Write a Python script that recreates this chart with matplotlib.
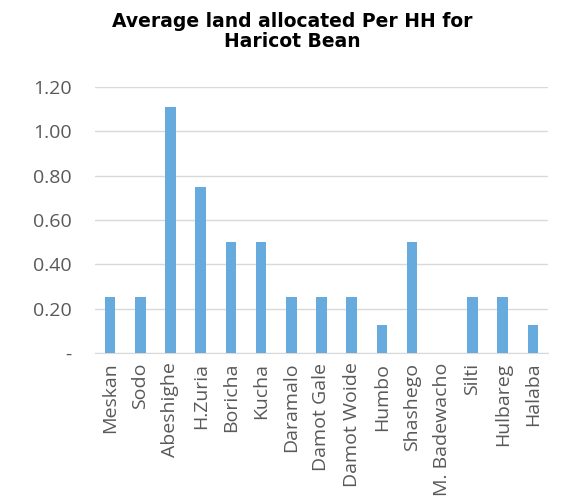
import matplotlib.pyplot as plt
import numpy as np

districts = ["Meskan", "Sodo", "Abeshighe", "H.Zuria", "Boricha", "Kucha",
             "Daramalo", "Damot Gale", "Damot Woide", "Humbo", "Shashego",
             "M. Badewacho", "Silti", "Hulbareg", "Halaba"]
land_per_hh = [0.25, 0.25, 1.11, 0.75, 0.50, 0.50, 0.25, 0.25, 0.25,
               0.125, 0.50, 0.0, 0.25, 0.25, 0.125]
yticks = [0.0, 0.2, 0.4, 0.6, 0.8, 1.0, 1.2]
ytick_labels = ["-", "0.20", "0.40", "0.60", "0.80", "1.00", "1.20"]

fig = plt.figure(figsize=(5.62, 4.97), dpi=100)
ax = fig.add_axes([0.169, 0.290, 0.806, 0.535])

x = np.arange(len(districts))
ax.bar(x, land_per_hh, width=0.35, color="#67abde", zorder=3)

ax.set_xlim(-0.5, len(districts) - 0.5)
ax.set_ylim(0, 1.2)
ax.set_yticks(yticks)
ax.set_yticklabels(ytick_labels)
ax.set_xticks(x)
ax.set_xticklabels(districts, rotation=90)

for lbl in ax.get_xticklabels() + ax.get_yticklabels():
    lbl.set_family("Open Sans")
    lbl.set_fontsize(14)
    lbl.set_color("#595959")

ax.grid(axis="y", color="#d9d9d9", linewidth=1, zorder=0)
ax.tick_params(axis="y", length=0, pad=17)
ax.tick_params(axis="x", length=0, pad=7)
for side in ["top", "right", "left"]:
    ax.spines[side].set_visible(False)
ax.spines["bottom"].set_color("#d9d9d9")

fig.text(0.52, 0.937, "Average land allocated Per HH for\nHaricot Bean",
         ha="center", va="center", fontsize=13.5, fontweight="bold",
         family="DejaVu Sans", linespacing=1.05)

fig.savefig("out.png", dpi=100)
